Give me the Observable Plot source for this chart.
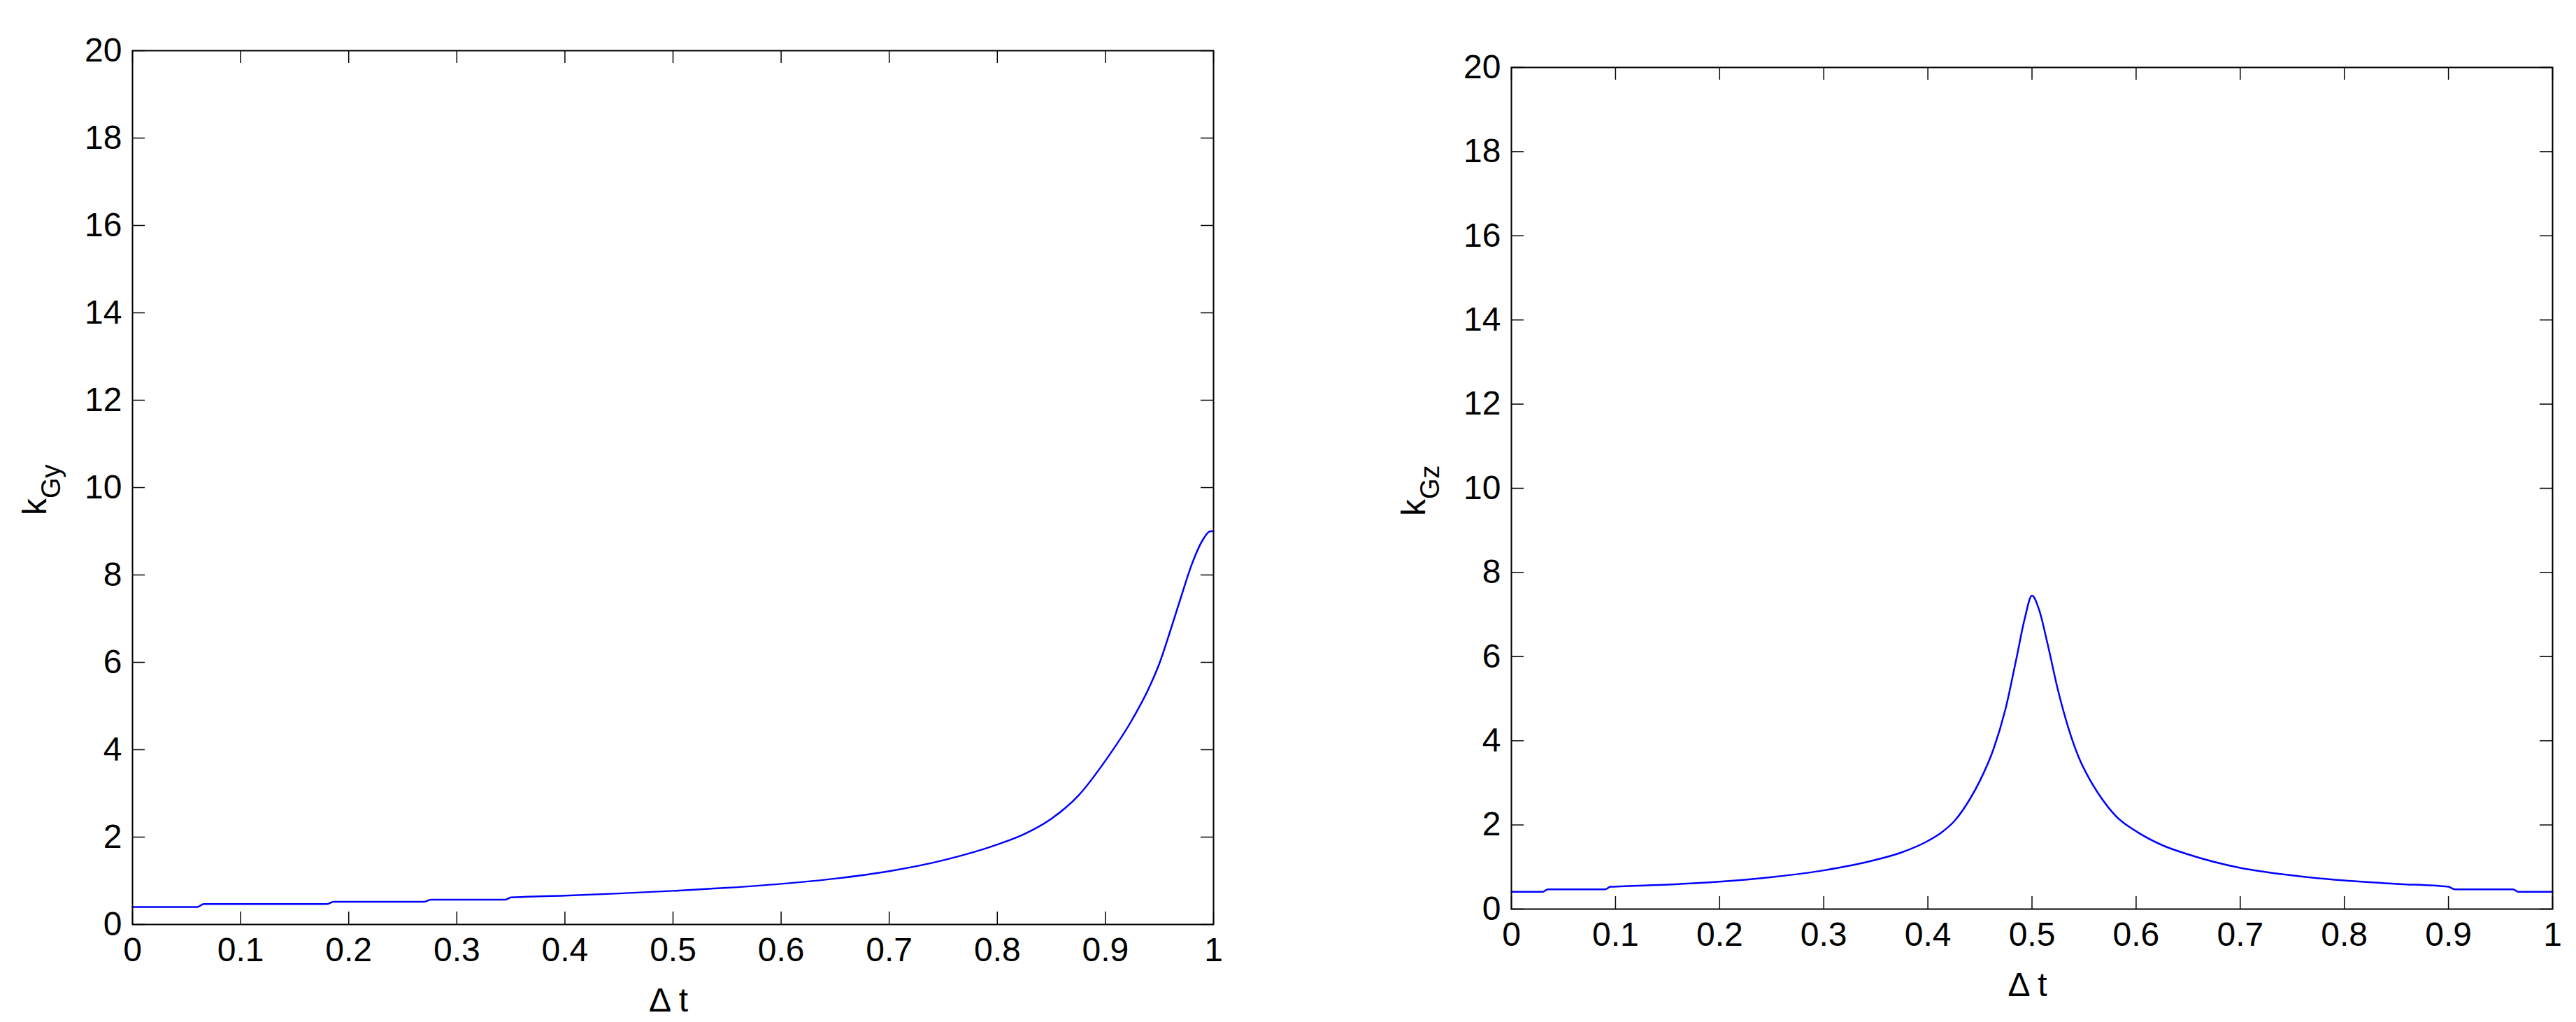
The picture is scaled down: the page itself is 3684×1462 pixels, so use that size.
<!DOCTYPE html>
<html>
<head>
<meta charset="utf-8">
<script src="https://cdn.jsdelivr.net/npm/d3@7"></script>
<script src="https://cdn.jsdelivr.net/npm/@observablehq/plot@0.6"></script>
<style>
  html, body { margin: 0; padding: 0; background: white; }
  #wrap { display: flex; width: 3684px; height: 1462px; }
  #wrap svg { flex: none; max-width: none; overflow: visible; }
</style>
</head>
<body>
<div id="wrap"></div>
<script>
// ---- data ----
const xTicks = [0, 0.1, 0.2, 0.3, 0.4, 0.5, 0.6, 0.7, 0.8, 0.9, 1];
const yTicks = [0, 2, 4, 6, 8, 10, 12, 14, 16, 18, 20];

const leftT = [0, 0.06, 0.066, 0.18, 0.186, 0.27, 0.276, 0.345, 0.35, 0.4, 0.45, 0.5, 0.55, 0.6, 0.65, 0.7, 0.75, 0.8, 0.825, 0.85, 0.875, 0.9, 0.925, 0.94, 0.95, 0.96, 0.97, 0.98, 0.99, 0.997, 1];
const leftK = [0.40, 0.40, 0.47, 0.47, 0.52, 0.52, 0.57, 0.57, 0.62, 0.66, 0.71, 0.77, 0.84, 0.93, 1.05, 1.22, 1.47, 1.83, 2.07, 2.42, 2.95, 3.75, 4.7, 5.4, 5.98, 6.72, 7.5, 8.25, 8.8, 9.0, 9.0];

const rightT = [0, 0.03, 0.035, 0.09, 0.095, 0.15, 0.2, 0.25, 0.3, 0.35, 0.375, 0.4, 0.413, 0.425, 0.44, 0.45, 0.463, 0.475, 0.485, 0.493, 0.5, 0.507, 0.515, 0.525, 0.535, 0.545, 0.555, 0.565, 0.581, 0.6, 0.625, 0.65, 0.7, 0.75, 0.8, 0.85, 0.9, 0.906, 0.962, 0.967, 1];
const rightK = [0.41, 0.41, 0.47, 0.47, 0.53, 0.58, 0.65, 0.76, 0.92, 1.17, 1.35, 1.62, 1.82, 2.08, 2.6, 3.05, 3.8, 4.8, 5.95, 6.9, 7.45, 7.1, 6.3, 5.2, 4.3, 3.6, 3.1, 2.7, 2.2, 1.85, 1.52, 1.3, 0.98, 0.8, 0.68, 0.6, 0.53, 0.47, 0.47, 0.41, 0.41];

const xLabel = "Δ t";
const panels = [
  {t: leftT, k: leftK, sub: "Gy", margin: {left: 189, right: 107, top: 72, bottom: 140}},
  {t: rightT, k: rightK, sub: "Gz", margin: {left: 319, right: 34, top: 96, bottom: 162}}
];

const W = 1842, H = 1462, TICK = 18;
const fmt = d => String(+d.toFixed(1));

for (const p of panels) {
  const data = p.t.map((t, i) => ({t, k: p.k[i]}));
  const m = p.margin;
  const pw = W - m.left - m.right, ph = H - m.top - m.bottom;
  const svg = Plot.plot({
    width: W, height: H,
    marginLeft: m.left, marginRight: m.right, marginTop: m.top, marginBottom: m.bottom,
    style: {fontFamily: "'Liberation Sans', Arial, sans-serif", fontSize: "48px", background: "white", color: "black"},
    x: {domain: [0, 1]},
    y: {domain: [0, 20]},
    marks: [
      Plot.line(data, {x: "t", y: "k", stroke: "#0000ff", strokeWidth: 2.5, curve: "monotone-x"}),
      Plot.frame({stroke: "black", strokeWidth: 2}),
      Plot.ruleX(xTicks, {x: d => d, insetTop: ph - TICK, stroke: "black", strokeWidth: 1.5}),
      Plot.ruleX(xTicks, {x: d => d, insetBottom: ph - TICK, stroke: "black", strokeWidth: 1.5}),
      Plot.ruleY(yTicks, {y: d => d, insetRight: pw - TICK, stroke: "black", strokeWidth: 1.5}),
      Plot.ruleY(yTicks, {y: d => d, insetLeft: pw - TICK, stroke: "black", strokeWidth: 1.5}),
      Plot.axisX({ticks: xTicks, tickSize: 0, tickPadding: 18, tickFormat: fmt, label: null}),
      Plot.axisY({ticks: yTicks, tickSize: 0, tickPadding: 15, label: null})
    ]
  });
  const s = d3.select(svg);
  // x label
  s.append("text")
    .attr("x", m.left + pw / 2 - 6)
    .attr("y", H - m.bottom + 125)
    .attr("text-anchor", "middle")
    .attr("font-size", 48)
    .attr("fill", "black")
    .text(xLabel);
  // y label with subscript
  const yl = s.append("text")
    .attr("transform", `translate(${m.left - 123},${m.top + ph / 2 + 40}) rotate(-90)`)
    .attr("text-anchor", "start")
    .attr("font-size", 48)
    .attr("fill", "black");
  yl.append("tspan").text("k");
  yl.append("tspan").attr("dy", 20).attr("font-size", 38).text(p.sub);
  document.getElementById("wrap").appendChild(svg);
}
</script>
</body>
</html>
